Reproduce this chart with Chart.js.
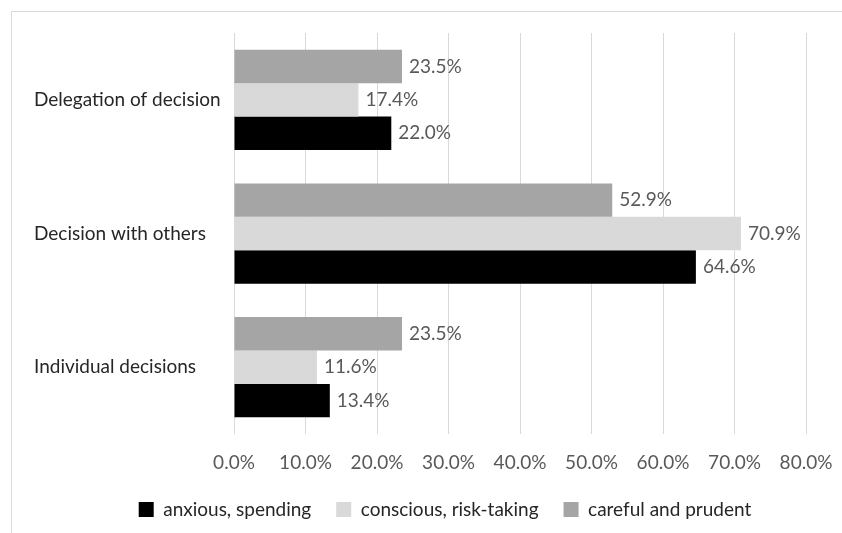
<!DOCTYPE html>
<html lang="en">
  <head>
    <meta charset="UTF-8" />
    <title>Decision styles</title>
    <style>
      body { margin: 0; background: #fff; }
      #wrap { position: relative; width: 842px; height: 533px; }
      #frame {
        position: absolute; left: 11px; top: 11px; right: 0; bottom: 0;
        border-left: 1px solid #d9d9d9; border-top: 1px solid #d9d9d9;
        pointer-events: none;
      }
    </style>
  </head>
  <body>
    <div id="wrap">
      <canvas id="chartDecisions" width="842" height="533"></canvas>
      <div id="frame"></div>
    </div>

    <script src="https://cdn.jsdelivr.net/npm/chart.js"></script>
    <script>
      // categories, top to bottom
      var categories = ['Delegation of decision', 'Decision with others', 'Individual decisions'];
      // values in percent
      var anxious = [22.0, 64.6, 13.4];
      var conscious = [17.4, 70.9, 11.6];
      var careful = [23.5, 52.9, 23.5];
      var xTicks = [0, 10, 20, 30, 40, 50, 60, 70, 80];

      // value labels at the end of every bar
      var barLabels = {
        id: 'barLabels',
        afterDatasetsDraw: function (chart) {
          var ctx = chart.ctx;
          ctx.save();
          ctx.font = '19px Lato';
          ctx.fillStyle = '#595959';
          ctx.textAlign = 'left';
          ctx.textBaseline = 'middle';
          chart.data.datasets.forEach(function (ds, i) {
            chart.getDatasetMeta(i).data.forEach(function (bar, j) {
              ctx.fillText(ds.data[j].toFixed(1) + '%', bar.x + 7, bar.y);
            });
          });
          ctx.restore();
        }
      };

      // legend in the original sits a bit right of centre
      var legendShift = {
        id: 'legendShift',
        afterLayout: function (chart) {
          chart.legend.left += 25;
          chart.legend.right += 25;
        }
      };

      Chart.defaults.font.family = 'Lato';
      Chart.defaults.font.size = 19;

      var ctx = document.getElementById('chartDecisions').getContext('2d');
      var chart = new Chart(ctx, {
        type: 'bar',
        data: {
          labels: categories,
          datasets: [
            { label: 'careful and prudent', data: careful, backgroundColor: '#a5a5a5' },
            { label: 'conscious, risk-taking', data: conscious, backgroundColor: '#d9d9d9' },
            { label: 'anxious, spending', data: anxious, backgroundColor: '#000000' }
          ]
        },
        options: {
          indexAxis: 'y',
          responsive: false,
          animation: false,
          categoryPercentage: 0.75,
          barPercentage: 1.0,
          layout: { padding: { left: 34, right: 36, top: 33, bottom: 4 } },
          scales: {
            x: {
              min: 0,
              max: 80,
              afterBuildTicks: function (axis) {
                axis.ticks = xTicks.map(function (v) { return { value: v }; });
              },
              afterFit: function (axis) {
                axis.height = 41;
                axis.paddingLeft = 0;
                axis.paddingRight = 0;
              },
              grid: { color: '#d9d9d9', drawTicks: false },
              border: { display: false },
              ticks: {
                padding: 17,
                color: '#595959',
                callback: function (v) { return v.toFixed(1) + '%'; }
              }
            },
            y: {
              grid: { display: false },
              border: { display: false },
              afterFit: function (axis) { axis.width = 200; },
              ticks: { crossAlign: 'far', color: '#262626', padding: 10 }
            }
          },
          plugins: {
            legend: {
              position: 'bottom',
              reverse: true,
              labels: { boxWidth: 15, boxHeight: 15, color: '#262626', padding: 25 }
            },
            tooltip: { enabled: false }
          }
        },
        plugins: [barLabels, legendShift]
      });
    </script>
  </body>
</html>
